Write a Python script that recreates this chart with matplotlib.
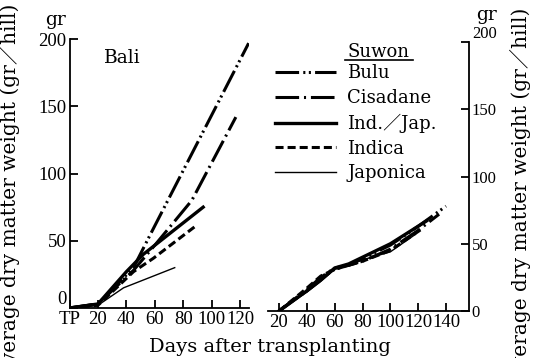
import matplotlib
matplotlib.use("Agg")
import matplotlib.pyplot as plt
from matplotlib.lines import Line2D

plt.rcParams['font.family'] = ['Liberation Serif', 'Noto Sans CJK JP']
plt.rcParams['lines.scale_dashes'] = False
wide = ['DejaVu Serif', 'Noto Sans CJK JP']

# Bali (days after transplanting, dry matter g/hill)
bali_bulu_x = [0, 20, 45, 57, 126]
bali_bulu_y = [0, 3, 30, 55, 197]
bali_cisa_x = [0, 20, 45, 61, 86, 117]
bali_cisa_y = [0, 3, 28, 48, 80, 142]
bali_indjap_x = [0, 20, 40, 52, 94]
bali_indjap_y = [0, 3, 27, 40, 75]
bali_indica_x = [0, 20, 45, 59, 90]
bali_indica_y = [0, 2, 27, 37, 62]
bali_japon_x = [0, 20, 38, 74]
bali_japon_y = [0, 2, 15, 30]

# Suwon
suwon_bulu_x = [20, 40, 50, 60, 70, 80, 100, 120, 140]
suwon_bulu_y = [0, 15, 24, 31, 34, 39, 49, 63, 78]
suwon_cisa_x = [20, 40, 50, 60, 70, 80, 100, 120, 135]
suwon_cisa_y = [0, 16, 25, 32, 34, 37, 46, 60, 72]
suwon_indjap_x = [20, 40, 50, 60, 70, 80, 100, 126]
suwon_indjap_y = [0, 15, 23, 32, 35, 40, 50, 67]
suwon_indica_x = [20, 40, 50, 60, 70, 80, 100, 124]
suwon_indica_y = [0, 17, 26, 31, 34, 37, 45, 62]
suwon_japon_x = [20, 40, 50, 60, 70, 80, 100, 118]
suwon_japon_y = [0, 14, 22, 31, 34, 38, 44, 57]

names = ['Bulu', 'Cisadane', 'Ind.／Jap.', 'Indica', 'Japonica']
styles = [
    dict(lw=2.2, dashes=(17, 3, 1.5, 2.5, 1.5, 3)),
    dict(lw=2.2, dashes=(17, 3.5, 1.5, 3.5)),
    dict(lw=2.4, ls='-'),
    dict(lw=2.2, dashes=(5.8, 2.9)),
    dict(lw=1.0, ls='-'),
]

fig = plt.figure(figsize=(5.36, 3.58), dpi=100)
ax1 = fig.add_axes([0.1297, 0.1397, 0.335, 0.751])
ax2 = fig.add_axes([0.5, 0.1313, 0.375, 0.751])

bali = [(bali_bulu_x, bali_bulu_y), (bali_cisa_x, bali_cisa_y),
        (bali_indjap_x, bali_indjap_y), (bali_indica_x, bali_indica_y),
        (bali_japon_x, bali_japon_y)]
suwon = [(suwon_bulu_x, suwon_bulu_y), (suwon_cisa_x, suwon_cisa_y),
         (suwon_indjap_x, suwon_indjap_y), (suwon_indica_x, suwon_indica_y),
         (suwon_japon_x, suwon_japon_y)]

handles = []
for (x, y), st in zip(bali, styles):
    ax1.plot(x, y, color='black', **st)
for (x, y), st, nm in zip(suwon, styles, names):
    h, = ax2.plot(x, y, color='black', label=nm, **st)
    handles.append(h)

fs = 13.5
ax1.set_xlim(0, 126.3)
ax1.set_ylim(0, 200)
ax1.set_xticks([0, 20, 40, 60, 80, 100, 120])
ax1.set_xticklabels(['TP', '20', '40', '60', '80', '100', '120'])
ax1.set_yticks([0, 50, 100, 150, 200])
for s in ['top', 'right']:
    ax1.spines[s].set_visible(False)

ax2.set_xlim(12.1, 156.5)
ax2.set_ylim(0, 200)
ax2.set_xticks([20, 40, 60, 80, 100, 120, 140])
ax2.set_yticks([0, 50, 100, 150, 200])
ax2.yaxis.tick_right()
for s in ['top', 'left']:
    ax2.spines[s].set_visible(False)

for ax in (ax1, ax2):
    for s in ax.spines.values():
        s.set_linewidth(1.3)
    ax.tick_params(direction='in', length=6, width=1.3, labelsize=fs, pad=2)
ax2.tick_params(axis='y', labelsize=12)

# zero on the Bali axis sits just above the baseline, clear of "TP"
ax1.get_yticklabels()[0].set_va('bottom')
ax2.get_yticklabels()[-1].set_va('bottom')

ax1.text(24, 186, 'Bali', fontsize=fs, family=wide, va='center')
fig.text(0.084, 0.945, 'gr', fontsize=fs, family=wide, ha='left',
         va='center')
fig.text(0.888, 0.958, 'gr', fontsize=fs, family=wide, ha='left',
         va='center')

fig.text(0.503, 0.03, 'Days after transplanting', fontsize=14, family=wide,
         ha='center', va='center')
ylab = 'Average dry matter weight (gr／hill)'
fig.text(0.017, 0.99, ylab, fontsize=14.5, family=wide, rotation=90,
         ha='center', va='top')
fig.text(0.972, 0.98, ylab, fontsize=14.5, family=wide, rotation=90,
         ha='center', va='top')

# legend for the Suwon panel, with underlined heading
fig.legend(handles=handles, loc='upper left', bbox_to_anchor=(0.513, 0.82),
           frameon=False, prop={'family': wide, 'size': 13},
           handlelength=3.4, handletextpad=0.6, labelspacing=0.37,
           borderpad=0, borderaxespad=0)
fig.text(0.707, 0.855, 'Suwon', fontsize=13, family=wide, ha='center',
         va='center')
fig.add_artist(Line2D([0.644, 0.770], [0.833, 0.833], color='black', lw=1.2,
                      transform=fig.transFigure))

fig.savefig('out.png', dpi=100)
